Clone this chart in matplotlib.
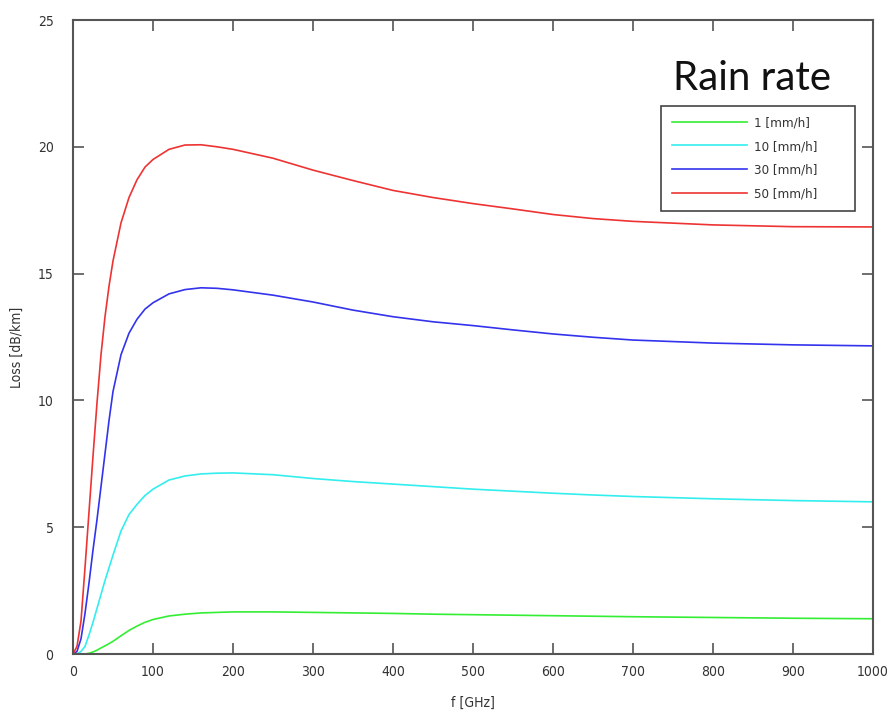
import numpy as np
import matplotlib
matplotlib.use("Agg")
import matplotlib.pyplot as plt
from matplotlib import font_manager

# frequency grid [GHz]
freq = [0, 5, 10, 15, 20, 25, 30, 35, 40, 45, 50, 60, 70, 80, 90, 100,
        120, 140, 160, 180, 200, 250, 300, 350, 400, 450, 500, 550, 600,
        650, 700, 800, 900, 1000]

# rain attenuation [dB/km]
loss_1 = [0, 0, 0, 0.0, 0.03, 0.08, 0.15, 0.24, 0.32, 0.41, 0.5, 0.72, 0.93,
          1.1, 1.25, 1.36, 1.5, 1.57, 1.62, 1.64, 1.66, 1.66, 1.64, 1.62,
          1.6, 1.57, 1.55, 1.53, 1.51, 1.49, 1.47, 1.44, 1.41, 1.39]
loss_10 = [0, 0.0, 0.1, 0.3, 0.75, 1.25, 1.8, 2.35, 2.9, 3.4, 3.9, 4.85, 5.5,
           5.9, 6.25, 6.5, 6.86, 7.02, 7.1, 7.13, 7.14, 7.07, 6.92, 6.8,
           6.7, 6.6, 6.5, 6.42, 6.34, 6.27, 6.21, 6.12, 6.05, 6.0]
loss_30 = [0, 0.1, 0.6, 1.6, 2.8, 4.1, 5.3, 6.6, 7.9, 9.2, 10.35, 11.8, 12.65,
           13.2, 13.6, 13.85, 14.2, 14.37, 14.44, 14.42, 14.36, 14.15, 13.88,
           13.56, 13.3, 13.1, 12.95, 12.78, 12.62, 12.49, 12.38, 12.26,
           12.19, 12.15]
loss_50 = [0, 0.3, 1.3, 3.4, 5.6, 7.8, 9.9, 11.8, 13.3, 14.5, 15.5, 17.0,
           18.0, 18.7, 19.2, 19.5, 19.9, 20.07, 20.08, 20.0, 19.9, 19.55,
           19.08, 18.67, 18.28, 18.0, 17.76, 17.55, 17.33, 17.17, 17.06,
           16.92, 16.85, 16.84]

series = [
    (loss_1, "1 [mm/h]", "#33ee33"),
    (loss_10, "10 [mm/h]", "#33eeee"),
    (loss_30, "30 [mm/h]", "#3333ee"),
    (loss_50, "50 [mm/h]", "#ee3333"),
]

# narrow font for the small texts, if one is around
fonts = font_manager.fontManager.ttflist
if any(f.name == "Liberation Sans Narrow" for f in fonts):
    small = dict(family="Liberation Sans Narrow", stretch="normal", size=11)
elif any(f.name == "DejaVu Sans" and f.stretch == "condensed" for f in fonts):
    small = dict(family="DejaVu Sans", stretch="condensed", size=10)
else:
    small = dict(family="DejaVu Sans", stretch="normal", size=9)
small_fp = font_manager.FontProperties(**small)

fig = plt.figure(figsize=(8.88, 7.15), dpi=100)
ax = fig.add_axes([73 / 888, 1 - 654 / 715, 800 / 888, 634 / 715])

for y, label, color in series:
    ax.plot(freq, y, color=color, lw=1.2, label=label)

ax.set_xlim(0, 1000)
ax.set_ylim(0, 25)
ax.set_xticks(np.arange(0, 1001, 100))
ax.set_yticks(np.arange(0, 26, 5))
ax.tick_params(direction="in", length=8, width=1.2, color="#555555",
               top=True, right=True, labelcolor="#333333")
ax.tick_params(axis="y", pad=14)
ax.tick_params(axis="x", pad=8)
for lab in ax.get_xticklabels() + ax.get_yticklabels():
    lab.set_fontproperties(small_fp)
for s in ax.spines.values():
    s.set_color("#555555")
    s.set_linewidth(1.5)

ax.set_xlabel("f [GHz]", fontproperties=small_fp, color="#333333",
              labelpad=12)
ax.set_ylabel("Loss [dB/km]", fontproperties=small_fp, color="#333333")
ax.yaxis.set_label_coords(-0.061, 0.484)

fig.text(752 / 888, 1 - 78 / 715, "Rain rate", fontsize=29, family="Lato",
         ha="center", va="center", color="#111111")

leg_fp = font_manager.FontProperties(family=small["family"],
                                     stretch=small["stretch"],
                                     size=small["size"] - 0.5)
leg = ax.legend(loc="upper left",
                bbox_to_anchor=(661 / 888, 1 - 212 / 715, 194 / 888, 106 / 715),
                bbox_transform=fig.transFigure, borderaxespad=0, mode="expand",
                prop=leg_fp, handlelength=5.7, handletextpad=0.55,
                labelspacing=0.8, borderpad=0.8, fancybox=False,
                framealpha=1)
leg.get_frame().set_edgecolor("#444444")
leg.get_frame().set_linewidth(1.2)
for t in leg.get_texts():
    t.set_color("#333333")

fig.savefig("out.png", dpi=100)
